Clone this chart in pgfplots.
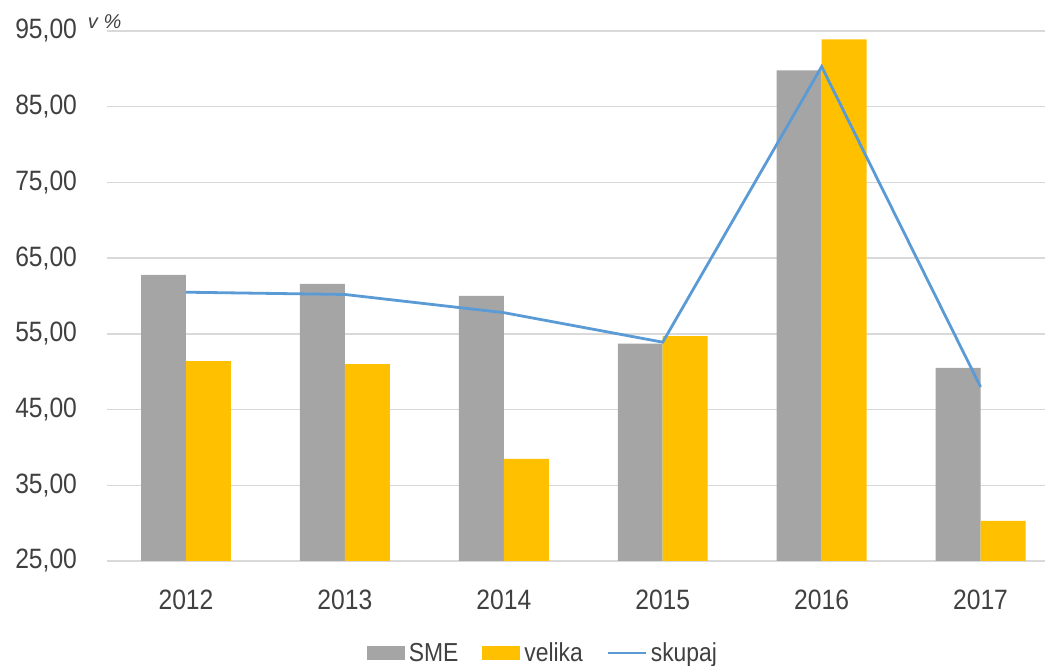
\documentclass[border=0pt]{standalone}
\usepackage{pgfplots}
\pgfplotsset{compat=1.18}
\usepackage{fontspec}
\setmainfont{Liberation Sans}
\newfontfamily\cond[FakeStretch=0.88]{Liberation Sans}
\definecolor{smegray}{HTML}{A5A5A5}
\definecolor{velorange}{HTML}{FFC000}
\definecolor{lineblue}{HTML}{5B9BD5}
\definecolor{gridgray}{HTML}{D9D9D9}
\definecolor{textgray}{HTML}{404040}
\begin{document}
\begin{tikzpicture}
\useasboundingbox (0,0) rectangle (786.75pt,499.5pt);
\begin{axis}[
  at={(79.9pt,78.75pt)}, anchor=south west,
  scale only axis, width=703.9pt, height=397.5pt,
  xmin=-0.5, xmax=5.406, ymin=25, ymax=95,
  xtick={0,1,2,3,4,5},
  xticklabels={2012,2013,2014,2015,2016,2017},
  ytick={25,35,45,55,65,75,85,95},
  axis line style={draw=none}, major tick length=0pt,
  ymajorgrids, grid style={color=gridgray, line width=1.1pt},
  clip=false,
  /pgf/number format/assume math mode=true,
  ticklabel style={font=\cond\fontsize{21}{25}\selectfont, text=textgray},
  yticklabel style={anchor=east, inner sep=0pt, xshift=-22pt,
    /pgf/number format/.cd, fixed, fixed zerofill, precision=2, use comma},
  xticklabel style={anchor=north, inner sep=0pt, yshift=-21.5pt},
  legend columns=-1,
  legend style={draw=none, fill=none, at={(0.466,-0.1736)}, anchor=center,
    font=\cond\fontsize{19.5}{23}\selectfont, text=textgray,
    /tikz/every even column/.append style={column sep=15pt},
    nodes={inner sep=3pt}},
]
\addplot[ybar, fill=smegray, draw=none, bar width=0.283, bar shift=-0.1415,
  legend image code/.code={\fill[smegray] (0pt,-5pt) rectangle (28.5pt,5pt);}]
  coordinates {(0,62.8) (1,61.6) (2,60.0) (3,53.7) (4,89.8) (5,50.5)};
\addlegendentry{SME}
\addplot[ybar, fill=velorange, draw=none, bar width=0.283, bar shift=0.1415,
  legend image code/.code={\fill[velorange] (0pt,-5pt) rectangle (28.5pt,5pt);}]
  coordinates {(0,51.4) (1,51.0) (2,38.5) (3,54.7) (4,93.9) (5,30.3)};
\addlegendentry{velika}
\addplot[sharp plot, color=lineblue, line width=2.1pt, mark=none,
  legend image code/.code={\draw[lineblue, line width=2pt] (0pt,0pt) -- (28pt,0pt);}]
  coordinates {(0,60.5) (1,60.2) (2,57.8) (3,53.9) (4,90.3) (5,48.0)};
\addlegendentry{skupaj}
\node[font=\itshape\fontsize{15}{17}\selectfont, text=textgray, inner sep=0pt]
  at (rel axis cs:-0.002,1.017) {v \%};
\end{axis}
\end{tikzpicture}
\end{document}
